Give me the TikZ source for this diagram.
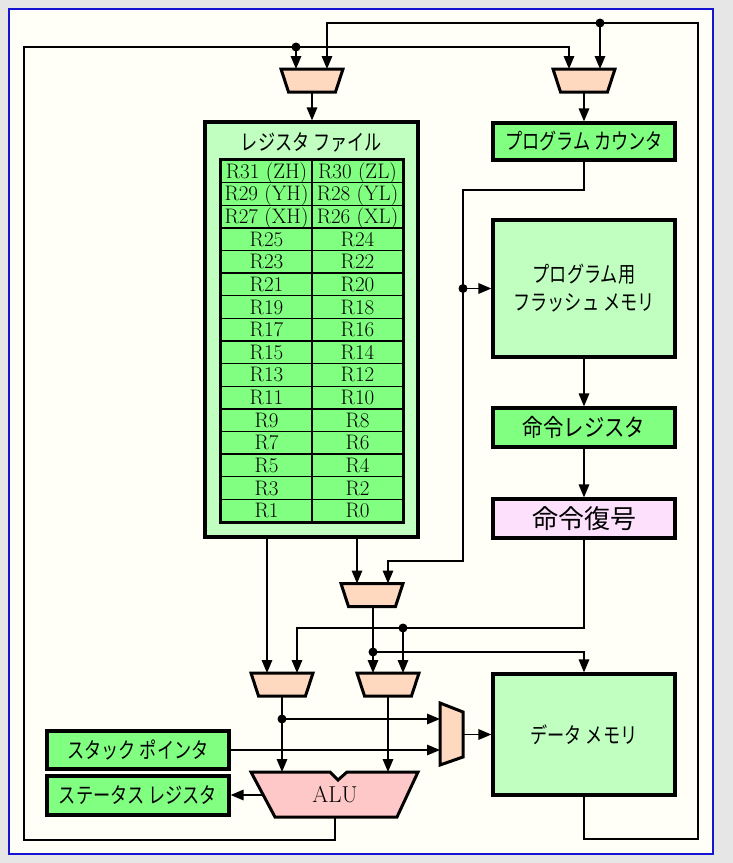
\documentclass[tikz,border=0pt]{standalone}
\usepackage{fontspec}
\usepackage{graphicx}
\usetikzlibrary{arrows.meta,calc}
\newfontfamily\cjk{Noto Sans CJK JP}
\definecolor{bgout}{HTML}{E6E6E6}
\definecolor{panel}{HTML}{FFFFF7}
\definecolor{pblue}{HTML}{1414D2}
\definecolor{lgreen}{HTML}{C0FFC0}
\definecolor{mgreen}{HTML}{80FF80}
\definecolor{muxc}{HTML}{FFD8C0}
\definecolor{aluc}{HTML}{FFC8C8}
\definecolor{decc}{HTML}{FCE0FC}
\newcommand\jp[2][0.78]{\scalebox{#1}[1]{\cjk #2}}
\newcommand\muxdown[3]{%
  \draw[muxst] (#2-31,#3-11.5) -- (#2+31,#3-11.5) -- (#2+23.5,#3+11.5) -- (#2-23.5,#3+11.5) -- cycle;
  \coordinate (#1-n) at (#2,#3-11.5);
  \coordinate (#1-s) at (#2,#3+11.5);
}
\begin{document}
\begin{tikzpicture}[x=1pt,y=-1pt,
  conn/.style={line width=1.6pt},
  arr/.style={conn,-{Triangle[length=13pt,width=10.5pt]}},
  box/.style={draw, line width=3.2pt, inner sep=0pt, font=\fontsize{22}{28}\selectfont},
  regcell/.style={draw, fill=mgreen, line width=1.3pt, minimum width=91pt, minimum height=22.625pt,
    inner sep=0pt, text height=14pt, text depth=0pt, font=\fontsize{21}{22}\selectfont},
  muxst/.style={draw, fill=muxc, line width=3pt, line join=miter},
  dotst/.style={fill=black}]
\useasboundingbox (0,0) rectangle (733,863);
\fill[bgout] (0,0) rectangle (733,863);
\draw[pblue, line width=1.5pt, fill=panel] (9,9) rectangle (713,854);

% register file
\node[box, fill=lgreen, minimum width=213pt, minimum height=415pt] (rf) at (311.5,329.5) {};
\node[font=\fontsize{22}{28}\selectfont, inner sep=0pt] (rft) at (311.5,142) {\jp{レジスタ ファイル}};
\foreach \a/\b [count=\i from 0] in {R31 (ZH)/R30 (ZL), R29 (YH)/R28 (YL), R27 (XH)/R26 (XL),
  R25/R24, R23/R22, R21/R20, R19/R18, R17/R16, R15/R14, R13/R12, R11/R10, R9/R8, R7/R6, R5/R4, R3/R2, R1/R0} {
  \node[regcell] (rl\i) at (266.5,{171.3125+22.625*\i}) {\a};
  \node[regcell] (rr\i) at (357.5,{171.3125+22.625*\i}) {\b};
}
\draw[line width=3pt] (rl0.north west) rectangle (rr15.south east);

% right column boxes
\node[box, fill=mgreen, minimum width=182pt, minimum height=37pt] (pc) at (584,141.5) {\jp{プログラム カウンタ}};
\node[box, fill=lgreen, minimum width=182pt, minimum height=137pt, align=center] (fl) at (584,288.5)
  {\jp{プログラム用}\\\jp{フラッシュ メモリ}};
\node[box, fill=mgreen, minimum width=182pt, minimum height=39pt] (ir) at (584,427.5)
  {\jp[0.85]{\fontsize{24}{26}\selectfont 命令レジスタ}};
\node[box, fill=decc, minimum width=182pt, minimum height=39pt] (dec) at (584,518.5)
  {\jp[1.0]{\fontsize{26}{28}\selectfont 命令復号}};
\node[box, fill=lgreen, minimum width=182pt, minimum height=121pt] (dm) at (584,734.5) {\jp{データ メモリ}};
\node[box, fill=mgreen, minimum width=182pt, minimum height=38pt] (sp) at (138,750) {\jp{スタック ポインタ}};
\node[box, fill=mgreen, minimum width=182pt, minimum height=39pt] (sr) at (138,795.5) {\jp{ステータス レジスタ}};

% multiplexers
\muxdown{mA}{312}{80.5}
\muxdown{mB}{584}{80.5}
\muxdown{mC}{372}{595}
\muxdown{mD}{282}{684.5}
\muxdown{mE}{388}{684.5}
\draw[muxst] (440,703) -- (463,712) -- (463,757) -- (440,765) -- cycle;
\coordinate (mF-w) at (440,734);
\coordinate (mF-e) at (463,734.5);

% ALU
\draw[muxst, fill=aluc] (251,772) -- (330,772) -- (338,780) -- (347,772) -- (418,772) -- (397,817) -- (275,817) -- cycle;
\node[font=\fontsize{23}{24}\selectfont, inner sep=0pt] (alu) at (335,795) {ALU};
\coordinate (alu-n) at (335,772);
\coordinate (alu-s) at (335,817);
\coordinate (alu-w) at (262,795);

% junctions and corners
\coordinate (jT) at (600,23);
\coordinate (tl) at (327,23);
\coordinate (rloop) at (698,839);
\coordinate (jL) at (296,47);
\coordinate (tr) at (569,47);
\coordinate (lloop) at (24,840);
\coordinate (pcA) at (584,190);
\coordinate (pcB) at (463,190);
\coordinate (jF) at (463,288.5);
\coordinate (pcC) at (463,561);
\coordinate (pcD) at (388,561);
\coordinate (dcA) at (584,628);
\coordinate (jD) at (403,628);
\coordinate (dcB) at (297,628);
\coordinate (rfo1) at (267,537);
\coordinate (rfo2) at (357,537);
\coordinate (mCo) at (373,606.5);
\coordinate (jC) at (373,652);
\coordinate (dmA) at (584,652);
\coordinate (jM) at (282,719);
\coordinate (mEo) at (388,696);

% connectors
\draw[arr] (mA-s) -- (mA-s |- rf.north);
\draw[arr] (mB-s) -- (mB-s |- pc.north);
\draw[arr] (dm.south) |- (rloop) |- (tl) -- (tl |- mA-n);
\draw[arr] (jT) -- (jT |- mB-n);
\draw[arr] (alu-s) |- (lloop) |- (tr) -- (tr |- mB-n);
\draw[arr] (jL) -- (jL |- mA-n);
\draw[arr] (pc.south) -- (pcA) -- (pcB) -- (pcC) -- (pcD) -- (pcD |- mC-n);
\draw[arr] (jF) -- (jF -| fl.west);
\draw[arr] (fl.south) -- (ir.north);
\draw[arr] (ir.south) -- (dec.north);
\draw[arr] (dec.south) -- (dcA) -- (dcB) -- (dcB |- mD-n);
\draw[arr] (jD) -- (jD |- mE-n);
\draw[arr] (rfo1) -- (rfo1 |- mD-n);
\draw[arr] (rfo2) -- (rfo2 |- mC-n);
\draw[arr] (mCo) -- (mCo |- mE-n);
\draw[arr] (jC) -- (dmA) -- (dm.north);
\draw[arr] (mD-s) -- (mD-s |- alu-n);
\draw[arr] (mEo) -- (mEo |- alu-n);
\draw[arr] (jM) -- (jM -| mF-w);
\draw[arr] (sp.east) -- (sp.east -| mF-w);
\draw[arr] (mF-e) -- (mF-e -| dm.west);
\draw[arr] (alu-w) -- (alu-w -| sr.east);

% dots
\foreach \p in {jT,jL,jF,jD,jC,jM} \fill[dotst] (\p) circle (4.5pt);
\end{tikzpicture}
\end{document}
